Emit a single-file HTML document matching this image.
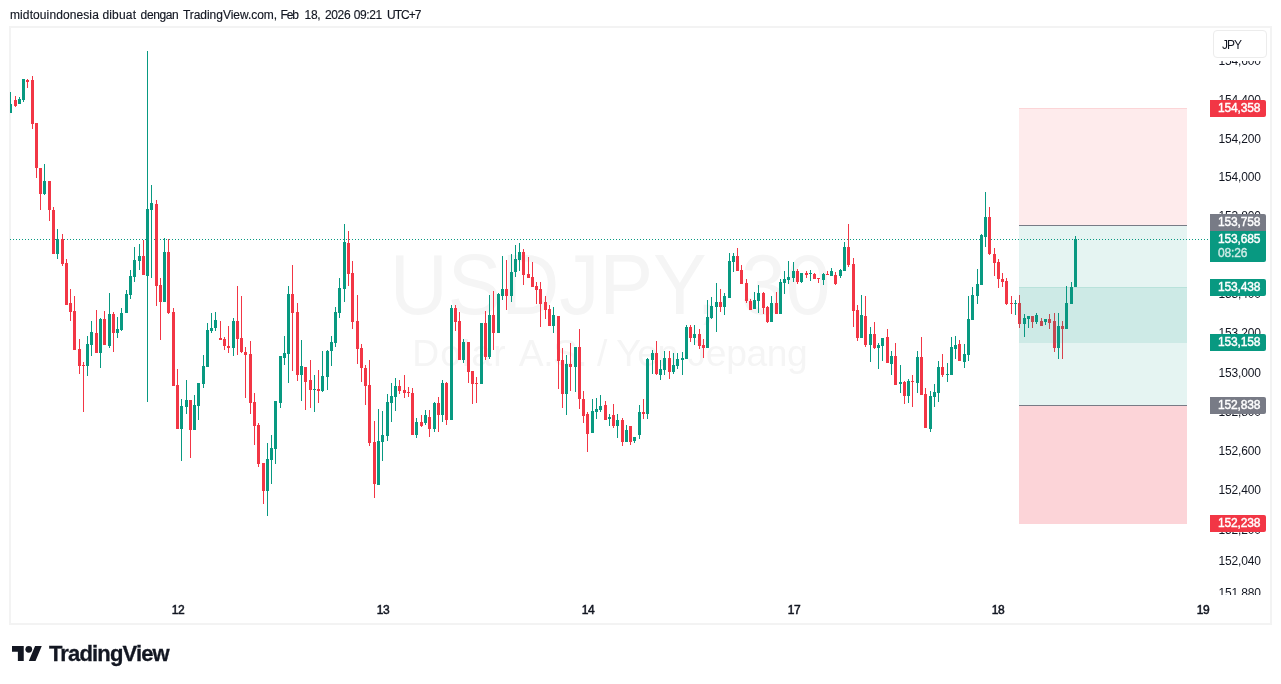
<!DOCTYPE html>
<html><head><meta charset="utf-8"><title>chart</title>
<style>
html,body{margin:0;padding:0;background:#fff;}
body{width:1281px;height:684px;position:relative;overflow:hidden;will-change:transform;font-family:"Liberation Sans",sans-serif;color:#131722;}
.hdr{position:absolute;left:10px;top:8px;-webkit-text-stroke:0.15px #131722;font-size:12px;line-height:14px;white-space:nowrap;color:#131722;letter-spacing:-0.035px;}
.frame{position:absolute;left:9px;top:26px;width:1259px;height:595px;border:2px solid #f3f3f3;box-sizing:content-box;}
.wm1{position:absolute;left:10px;width:1200px;top:236.5px;text-align:center;font-size:85px;line-height:96px;color:#f5f5f5;white-space:nowrap;transform:scaleX(0.945);transform-origin:601px 0;}
.wm2{position:absolute;left:10px;width:1200px;top:333.5px;text-align:center;font-size:36px;line-height:40px;color:#f5f5f5;white-space:nowrap;transform:scaleX(1.034);transform-origin:600px 0;}
.pl{position:absolute;left:1218.5px;width:44px;height:16px;line-height:16px;font-size:12px;color:#131722;white-space:nowrap;letter-spacing:-0.15px;}
.tl{position:absolute;top:602px;width:40px;text-align:center;height:16px;line-height:16px;font-size:12px;font-weight:normal;-webkit-text-stroke:0.5px #131722;color:#131722;letter-spacing:-0.3px;}
.tag{position:absolute;left:1210px;width:56px;height:17px;line-height:17px;font-size:12px;font-weight:normal;-webkit-text-stroke:0.42px #fff;color:#fff;box-sizing:border-box;padding-left:8px;border-radius:0 2px 2px 0;white-space:nowrap;letter-spacing:-0.15px;}
.jpy{position:absolute;left:1213px;top:30px;width:52px;height:26px;border:1px solid #ececec;border-radius:4px;background:#fff;font-size:12px;line-height:25px;box-sizing:content-box;}
.jpy span{position:absolute;left:8px;top:2px;letter-spacing:-1px;}
.jpybg{position:absolute;left:1209px;top:28px;width:61px;height:33px;background:#fff;}
.logo{position:absolute;left:12px;top:646px;}
.brand{position:absolute;left:49px;top:641px;-webkit-text-stroke:0.3px #131722;font-size:22px;line-height:26px;font-weight:bold;color:#131722;letter-spacing:-0.85px;}
</style></head><body>
<div class="hdr"><span style="position:absolute;left:0.0px;top:0;letter-spacing:0.101px">midtouindonesia</span><span style="position:absolute;left:92.4px;top:0;letter-spacing:0.185px">dibuat</span><span style="position:absolute;left:130.6px;top:0;letter-spacing:-0.375px">dengan</span><span style="position:absolute;left:172.9px;top:0;letter-spacing:-0.035px">TradingView.com,</span><span style="position:absolute;left:270.6px;top:0;letter-spacing:-1.185px">Feb</span><span style="position:absolute;left:294.6px;top:0;letter-spacing:-0.335px">18,</span><span style="position:absolute;left:314.9px;top:0;letter-spacing:-0.335px">2026</span><span style="position:absolute;left:343.7px;top:0;letter-spacing:-0.365px">09:21</span><span style="position:absolute;left:377.1px;top:0;letter-spacing:-0.985px">UTC+7</span></div>
<div class="frame"></div>
<div class="wm1">USDJPY, 30</div>
<div class="wm2"><span style="letter-spacing:1.05px">Dolar</span><span style="letter-spacing:1.8px"> </span><span style="letter-spacing:-0.5px">A.S. </span><span style="letter-spacing:-0.4px">/ Yen Jepan</span>g</div>
<svg width="1281" height="684" style="position:absolute;left:0;top:0" shape-rendering="crispEdges">
<line x1="10" y1="239.5" x2="1208" y2="239.5" stroke="#089981" stroke-width="1" stroke-dasharray="1 2"/>
<rect x="10" y="92" width="1" height="21" fill="#089981"/>
<rect x="10" y="104" width="2" height="9" fill="#089981"/>
<rect x="15" y="96" width="1" height="11" fill="#f23645"/>
<rect x="14" y="100" width="3" height="6" fill="#f23645"/>
<rect x="19" y="97" width="1" height="7" fill="#089981"/>
<rect x="18" y="99" width="3" height="5" fill="#089981"/>
<rect x="23" y="79" width="1" height="23" fill="#089981"/>
<rect x="22" y="79" width="3" height="21" fill="#089981"/>
<rect x="27" y="79" width="1" height="9" fill="#f23645"/>
<rect x="26" y="80" width="3" height="2" fill="#f23645"/>
<rect x="32" y="76" width="1" height="53" fill="#f23645"/>
<rect x="31" y="80" width="3" height="44" fill="#f23645"/>
<rect x="36" y="123" width="1" height="55" fill="#f23645"/>
<rect x="35" y="123" width="3" height="45" fill="#f23645"/>
<rect x="40" y="168" width="1" height="42" fill="#f23645"/>
<rect x="39" y="168" width="3" height="26" fill="#f23645"/>
<rect x="44" y="164" width="1" height="31" fill="#089981"/>
<rect x="43" y="181" width="3" height="13" fill="#089981"/>
<rect x="49" y="181" width="1" height="40" fill="#f23645"/>
<rect x="48" y="181" width="3" height="29" fill="#f23645"/>
<rect x="53" y="207" width="1" height="47" fill="#f23645"/>
<rect x="52" y="210" width="3" height="44" fill="#f23645"/>
<rect x="57" y="229" width="1" height="30" fill="#089981"/>
<rect x="56" y="239" width="3" height="15" fill="#089981"/>
<rect x="62" y="234" width="1" height="32" fill="#f23645"/>
<rect x="61" y="239" width="3" height="25" fill="#f23645"/>
<rect x="66" y="259" width="1" height="46" fill="#f23645"/>
<rect x="65" y="263" width="3" height="42" fill="#f23645"/>
<rect x="70" y="289" width="1" height="32" fill="#f23645"/>
<rect x="69" y="303" width="3" height="9" fill="#f23645"/>
<rect x="74" y="296" width="1" height="54" fill="#f23645"/>
<rect x="73" y="311" width="3" height="39" fill="#f23645"/>
<rect x="79" y="339" width="1" height="35" fill="#f23645"/>
<rect x="78" y="349" width="3" height="17" fill="#f23645"/>
<rect x="83" y="362" width="1" height="50" fill="#f23645"/>
<rect x="82" y="365" width="3" height="1" fill="#f23645"/>
<rect x="87" y="336" width="1" height="40" fill="#089981"/>
<rect x="86" y="344" width="3" height="22" fill="#089981"/>
<rect x="91" y="321" width="1" height="35" fill="#089981"/>
<rect x="90" y="332" width="3" height="13" fill="#089981"/>
<rect x="96" y="310" width="1" height="43" fill="#f23645"/>
<rect x="95" y="333" width="3" height="20" fill="#f23645"/>
<rect x="100" y="318" width="1" height="50" fill="#089981"/>
<rect x="99" y="319" width="3" height="34" fill="#089981"/>
<rect x="104" y="311" width="1" height="34" fill="#f23645"/>
<rect x="103" y="319" width="3" height="26" fill="#f23645"/>
<rect x="109" y="293" width="1" height="55" fill="#089981"/>
<rect x="108" y="314" width="3" height="32" fill="#089981"/>
<rect x="113" y="312" width="1" height="40" fill="#f23645"/>
<rect x="112" y="314" width="3" height="19" fill="#f23645"/>
<rect x="117" y="317" width="1" height="21" fill="#089981"/>
<rect x="116" y="329" width="3" height="4" fill="#089981"/>
<rect x="121" y="308" width="1" height="23" fill="#089981"/>
<rect x="120" y="313" width="3" height="17" fill="#089981"/>
<rect x="126" y="290" width="1" height="23" fill="#089981"/>
<rect x="125" y="294" width="3" height="19" fill="#089981"/>
<rect x="130" y="270" width="1" height="29" fill="#089981"/>
<rect x="129" y="276" width="3" height="19" fill="#089981"/>
<rect x="134" y="247" width="1" height="35" fill="#089981"/>
<rect x="133" y="260" width="3" height="17" fill="#089981"/>
<rect x="139" y="244" width="1" height="26" fill="#089981"/>
<rect x="138" y="256" width="3" height="5" fill="#089981"/>
<rect x="143" y="240" width="1" height="35" fill="#f23645"/>
<rect x="142" y="256" width="3" height="19" fill="#f23645"/>
<rect x="147" y="51" width="1" height="351" fill="#089981"/>
<rect x="146" y="209" width="3" height="67" fill="#089981"/>
<rect x="151" y="185" width="1" height="93" fill="#089981"/>
<rect x="150" y="203" width="3" height="7" fill="#089981"/>
<rect x="156" y="200" width="1" height="106" fill="#f23645"/>
<rect x="155" y="204" width="3" height="82" fill="#f23645"/>
<rect x="160" y="278" width="1" height="62" fill="#f23645"/>
<rect x="159" y="285" width="3" height="17" fill="#f23645"/>
<rect x="164" y="238" width="1" height="64" fill="#089981"/>
<rect x="163" y="252" width="3" height="50" fill="#089981"/>
<rect x="168" y="239" width="1" height="75" fill="#f23645"/>
<rect x="167" y="252" width="3" height="61" fill="#f23645"/>
<rect x="173" y="308" width="1" height="78" fill="#f23645"/>
<rect x="172" y="312" width="3" height="74" fill="#f23645"/>
<rect x="177" y="369" width="1" height="60" fill="#f23645"/>
<rect x="176" y="385" width="3" height="44" fill="#f23645"/>
<rect x="181" y="399" width="1" height="62" fill="#089981"/>
<rect x="180" y="406" width="3" height="23" fill="#089981"/>
<rect x="186" y="380" width="1" height="34" fill="#089981"/>
<rect x="185" y="400" width="3" height="7" fill="#089981"/>
<rect x="190" y="400" width="1" height="58" fill="#f23645"/>
<rect x="189" y="400" width="3" height="30" fill="#f23645"/>
<rect x="194" y="395" width="1" height="35" fill="#089981"/>
<rect x="193" y="405" width="3" height="25" fill="#089981"/>
<rect x="198" y="383" width="1" height="37" fill="#089981"/>
<rect x="197" y="383" width="3" height="23" fill="#089981"/>
<rect x="203" y="355" width="1" height="33" fill="#089981"/>
<rect x="202" y="366" width="3" height="18" fill="#089981"/>
<rect x="207" y="323" width="1" height="44" fill="#089981"/>
<rect x="206" y="330" width="3" height="37" fill="#089981"/>
<rect x="211" y="313" width="1" height="20" fill="#089981"/>
<rect x="210" y="328" width="3" height="3" fill="#089981"/>
<rect x="215" y="312" width="1" height="19" fill="#089981"/>
<rect x="214" y="320" width="3" height="8" fill="#089981"/>
<rect x="220" y="321" width="1" height="19" fill="#f23645"/>
<rect x="219" y="338" width="3" height="2" fill="#f23645"/>
<rect x="224" y="337" width="1" height="13" fill="#f23645"/>
<rect x="223" y="339" width="3" height="7" fill="#f23645"/>
<rect x="228" y="326" width="1" height="27" fill="#f23645"/>
<rect x="227" y="346" width="3" height="2" fill="#f23645"/>
<rect x="233" y="318" width="1" height="38" fill="#089981"/>
<rect x="232" y="321" width="3" height="27" fill="#089981"/>
<rect x="237" y="286" width="1" height="69" fill="#f23645"/>
<rect x="236" y="321" width="3" height="18" fill="#f23645"/>
<rect x="241" y="296" width="1" height="57" fill="#f23645"/>
<rect x="240" y="338" width="3" height="14" fill="#f23645"/>
<rect x="245" y="347" width="1" height="51" fill="#f23645"/>
<rect x="244" y="352" width="3" height="3" fill="#f23645"/>
<rect x="250" y="341" width="1" height="73" fill="#f23645"/>
<rect x="249" y="354" width="3" height="49" fill="#f23645"/>
<rect x="254" y="393" width="1" height="52" fill="#f23645"/>
<rect x="253" y="402" width="3" height="24" fill="#f23645"/>
<rect x="258" y="423" width="1" height="44" fill="#f23645"/>
<rect x="257" y="425" width="3" height="39" fill="#f23645"/>
<rect x="263" y="463" width="1" height="41" fill="#f23645"/>
<rect x="262" y="463" width="3" height="28" fill="#f23645"/>
<rect x="267" y="443" width="1" height="73" fill="#089981"/>
<rect x="266" y="459" width="3" height="32" fill="#089981"/>
<rect x="271" y="435" width="1" height="49" fill="#089981"/>
<rect x="270" y="448" width="3" height="12" fill="#089981"/>
<rect x="275" y="401" width="1" height="63" fill="#089981"/>
<rect x="274" y="401" width="3" height="48" fill="#089981"/>
<rect x="280" y="356" width="1" height="52" fill="#089981"/>
<rect x="279" y="356" width="3" height="47" fill="#089981"/>
<rect x="284" y="336" width="1" height="29" fill="#089981"/>
<rect x="283" y="353" width="3" height="5" fill="#089981"/>
<rect x="288" y="286" width="1" height="97" fill="#089981"/>
<rect x="287" y="294" width="3" height="60" fill="#089981"/>
<rect x="292" y="265" width="1" height="106" fill="#f23645"/>
<rect x="291" y="294" width="3" height="19" fill="#f23645"/>
<rect x="297" y="303" width="1" height="78" fill="#f23645"/>
<rect x="296" y="312" width="3" height="63" fill="#f23645"/>
<rect x="301" y="340" width="1" height="61" fill="#089981"/>
<rect x="300" y="366" width="3" height="9" fill="#089981"/>
<rect x="305" y="367" width="1" height="43" fill="#f23645"/>
<rect x="304" y="367" width="3" height="15" fill="#f23645"/>
<rect x="310" y="360" width="1" height="48" fill="#f23645"/>
<rect x="309" y="380" width="3" height="10" fill="#f23645"/>
<rect x="314" y="375" width="1" height="37" fill="#089981"/>
<rect x="313" y="389" width="3" height="1" fill="#089981"/>
<rect x="318" y="370" width="1" height="33" fill="#f23645"/>
<rect x="317" y="389" width="3" height="2" fill="#f23645"/>
<rect x="322" y="351" width="1" height="41" fill="#089981"/>
<rect x="321" y="376" width="3" height="15" fill="#089981"/>
<rect x="327" y="350" width="1" height="40" fill="#089981"/>
<rect x="326" y="351" width="3" height="26" fill="#089981"/>
<rect x="331" y="336" width="1" height="30" fill="#089981"/>
<rect x="330" y="342" width="3" height="9" fill="#089981"/>
<rect x="335" y="307" width="1" height="40" fill="#089981"/>
<rect x="334" y="312" width="3" height="31" fill="#089981"/>
<rect x="339" y="278" width="1" height="40" fill="#089981"/>
<rect x="338" y="288" width="3" height="25" fill="#089981"/>
<rect x="344" y="224" width="1" height="78" fill="#089981"/>
<rect x="343" y="242" width="3" height="47" fill="#089981"/>
<rect x="348" y="231" width="1" height="55" fill="#f23645"/>
<rect x="347" y="243" width="3" height="31" fill="#f23645"/>
<rect x="352" y="261" width="1" height="68" fill="#f23645"/>
<rect x="351" y="273" width="3" height="49" fill="#f23645"/>
<rect x="357" y="295" width="1" height="69" fill="#f23645"/>
<rect x="356" y="321" width="3" height="28" fill="#f23645"/>
<rect x="361" y="344" width="1" height="38" fill="#f23645"/>
<rect x="360" y="348" width="3" height="20" fill="#f23645"/>
<rect x="365" y="365" width="1" height="40" fill="#f23645"/>
<rect x="364" y="368" width="3" height="18" fill="#f23645"/>
<rect x="369" y="360" width="1" height="86" fill="#f23645"/>
<rect x="368" y="385" width="3" height="58" fill="#f23645"/>
<rect x="374" y="421" width="1" height="77" fill="#f23645"/>
<rect x="373" y="442" width="3" height="42" fill="#f23645"/>
<rect x="378" y="409" width="1" height="76" fill="#089981"/>
<rect x="377" y="441" width="3" height="44" fill="#089981"/>
<rect x="382" y="411" width="1" height="50" fill="#089981"/>
<rect x="381" y="435" width="3" height="7" fill="#089981"/>
<rect x="387" y="394" width="1" height="47" fill="#089981"/>
<rect x="386" y="402" width="3" height="34" fill="#089981"/>
<rect x="391" y="383" width="1" height="39" fill="#089981"/>
<rect x="390" y="396" width="3" height="7" fill="#089981"/>
<rect x="395" y="378" width="1" height="33" fill="#089981"/>
<rect x="394" y="386" width="3" height="11" fill="#089981"/>
<rect x="399" y="380" width="1" height="14" fill="#f23645"/>
<rect x="398" y="386" width="3" height="5" fill="#f23645"/>
<rect x="404" y="375" width="1" height="23" fill="#f23645"/>
<rect x="403" y="390" width="3" height="3" fill="#f23645"/>
<rect x="408" y="387" width="1" height="10" fill="#f23645"/>
<rect x="407" y="392" width="3" height="1" fill="#f23645"/>
<rect x="412" y="388" width="1" height="47" fill="#f23645"/>
<rect x="411" y="393" width="3" height="42" fill="#f23645"/>
<rect x="416" y="418" width="1" height="20" fill="#089981"/>
<rect x="415" y="422" width="3" height="13" fill="#089981"/>
<rect x="421" y="415" width="1" height="12" fill="#f23645"/>
<rect x="420" y="422" width="3" height="4" fill="#f23645"/>
<rect x="425" y="410" width="1" height="15" fill="#089981"/>
<rect x="424" y="415" width="3" height="8" fill="#089981"/>
<rect x="429" y="410" width="1" height="27" fill="#f23645"/>
<rect x="428" y="417" width="3" height="12" fill="#f23645"/>
<rect x="434" y="402" width="1" height="30" fill="#089981"/>
<rect x="433" y="403" width="3" height="26" fill="#089981"/>
<rect x="438" y="397" width="1" height="35" fill="#f23645"/>
<rect x="437" y="403" width="3" height="12" fill="#f23645"/>
<rect x="442" y="380" width="1" height="42" fill="#089981"/>
<rect x="441" y="383" width="3" height="32" fill="#089981"/>
<rect x="446" y="382" width="1" height="43" fill="#f23645"/>
<rect x="445" y="383" width="3" height="37" fill="#f23645"/>
<rect x="451" y="305" width="1" height="115" fill="#089981"/>
<rect x="450" y="308" width="3" height="112" fill="#089981"/>
<rect x="455" y="305" width="1" height="26" fill="#f23645"/>
<rect x="454" y="308" width="3" height="14" fill="#f23645"/>
<rect x="459" y="312" width="1" height="48" fill="#f23645"/>
<rect x="458" y="321" width="3" height="39" fill="#f23645"/>
<rect x="463" y="339" width="1" height="24" fill="#089981"/>
<rect x="462" y="342" width="3" height="18" fill="#089981"/>
<rect x="468" y="342" width="1" height="41" fill="#f23645"/>
<rect x="467" y="342" width="3" height="30" fill="#f23645"/>
<rect x="472" y="371" width="1" height="33" fill="#f23645"/>
<rect x="471" y="371" width="3" height="13" fill="#f23645"/>
<rect x="476" y="377" width="1" height="26" fill="#f23645"/>
<rect x="475" y="383" width="3" height="1" fill="#f23645"/>
<rect x="481" y="323" width="1" height="61" fill="#089981"/>
<rect x="480" y="323" width="3" height="61" fill="#089981"/>
<rect x="485" y="311" width="1" height="49" fill="#f23645"/>
<rect x="484" y="323" width="3" height="34" fill="#f23645"/>
<rect x="489" y="295" width="1" height="64" fill="#089981"/>
<rect x="488" y="315" width="3" height="42" fill="#089981"/>
<rect x="493" y="291" width="1" height="59" fill="#f23645"/>
<rect x="492" y="315" width="3" height="18" fill="#f23645"/>
<rect x="498" y="293" width="1" height="40" fill="#089981"/>
<rect x="497" y="294" width="3" height="39" fill="#089981"/>
<rect x="502" y="256" width="1" height="44" fill="#089981"/>
<rect x="501" y="289" width="3" height="7" fill="#089981"/>
<rect x="506" y="260" width="1" height="50" fill="#f23645"/>
<rect x="505" y="289" width="3" height="7" fill="#f23645"/>
<rect x="511" y="254" width="1" height="48" fill="#089981"/>
<rect x="510" y="272" width="3" height="24" fill="#089981"/>
<rect x="515" y="245" width="1" height="32" fill="#089981"/>
<rect x="514" y="259" width="3" height="13" fill="#089981"/>
<rect x="519" y="243" width="1" height="28" fill="#089981"/>
<rect x="518" y="252" width="3" height="8" fill="#089981"/>
<rect x="523" y="249" width="1" height="36" fill="#f23645"/>
<rect x="522" y="252" width="3" height="23" fill="#f23645"/>
<rect x="528" y="257" width="1" height="21" fill="#f23645"/>
<rect x="527" y="274" width="3" height="4" fill="#f23645"/>
<rect x="532" y="262" width="1" height="25" fill="#f23645"/>
<rect x="531" y="277" width="3" height="10" fill="#f23645"/>
<rect x="536" y="282" width="1" height="22" fill="#f23645"/>
<rect x="535" y="286" width="3" height="4" fill="#f23645"/>
<rect x="540" y="282" width="1" height="45" fill="#f23645"/>
<rect x="539" y="289" width="3" height="15" fill="#f23645"/>
<rect x="545" y="296" width="1" height="23" fill="#f23645"/>
<rect x="544" y="302" width="3" height="8" fill="#f23645"/>
<rect x="549" y="305" width="1" height="21" fill="#f23645"/>
<rect x="548" y="309" width="3" height="17" fill="#f23645"/>
<rect x="553" y="307" width="1" height="26" fill="#089981"/>
<rect x="552" y="315" width="3" height="11" fill="#089981"/>
<rect x="558" y="316" width="1" height="73" fill="#f23645"/>
<rect x="557" y="316" width="3" height="45" fill="#f23645"/>
<rect x="562" y="348" width="1" height="60" fill="#f23645"/>
<rect x="561" y="360" width="3" height="34" fill="#f23645"/>
<rect x="566" y="355" width="1" height="60" fill="#089981"/>
<rect x="565" y="364" width="3" height="30" fill="#089981"/>
<rect x="570" y="343" width="1" height="48" fill="#f23645"/>
<rect x="569" y="364" width="3" height="3" fill="#f23645"/>
<rect x="575" y="347" width="1" height="45" fill="#089981"/>
<rect x="574" y="347" width="3" height="20" fill="#089981"/>
<rect x="579" y="329" width="1" height="80" fill="#f23645"/>
<rect x="578" y="347" width="3" height="52" fill="#f23645"/>
<rect x="583" y="391" width="1" height="32" fill="#f23645"/>
<rect x="582" y="399" width="3" height="17" fill="#f23645"/>
<rect x="587" y="412" width="1" height="40" fill="#f23645"/>
<rect x="586" y="414" width="3" height="20" fill="#f23645"/>
<rect x="592" y="399" width="1" height="34" fill="#089981"/>
<rect x="591" y="411" width="3" height="22" fill="#089981"/>
<rect x="596" y="398" width="1" height="21" fill="#089981"/>
<rect x="595" y="409" width="3" height="3" fill="#089981"/>
<rect x="600" y="395" width="1" height="17" fill="#089981"/>
<rect x="599" y="406" width="3" height="4" fill="#089981"/>
<rect x="605" y="401" width="1" height="19" fill="#f23645"/>
<rect x="604" y="405" width="3" height="15" fill="#f23645"/>
<rect x="609" y="414" width="1" height="12" fill="#089981"/>
<rect x="608" y="417" width="3" height="2" fill="#089981"/>
<rect x="613" y="404" width="1" height="24" fill="#f23645"/>
<rect x="612" y="415" width="3" height="11" fill="#f23645"/>
<rect x="617" y="414" width="1" height="24" fill="#089981"/>
<rect x="616" y="420" width="3" height="6" fill="#089981"/>
<rect x="622" y="418" width="1" height="28" fill="#f23645"/>
<rect x="621" y="420" width="3" height="22" fill="#f23645"/>
<rect x="626" y="425" width="1" height="17" fill="#089981"/>
<rect x="625" y="430" width="3" height="12" fill="#089981"/>
<rect x="630" y="426" width="1" height="19" fill="#f23645"/>
<rect x="629" y="426" width="3" height="16" fill="#f23645"/>
<rect x="634" y="437" width="1" height="6" fill="#089981"/>
<rect x="633" y="437" width="3" height="4" fill="#089981"/>
<rect x="639" y="405" width="1" height="34" fill="#089981"/>
<rect x="638" y="412" width="3" height="23" fill="#089981"/>
<rect x="643" y="399" width="1" height="20" fill="#f23645"/>
<rect x="642" y="412" width="3" height="2" fill="#f23645"/>
<rect x="647" y="358" width="1" height="61" fill="#089981"/>
<rect x="646" y="359" width="3" height="55" fill="#089981"/>
<rect x="652" y="350" width="1" height="24" fill="#089981"/>
<rect x="651" y="353" width="3" height="7" fill="#089981"/>
<rect x="656" y="341" width="1" height="34" fill="#f23645"/>
<rect x="655" y="353" width="3" height="21" fill="#f23645"/>
<rect x="660" y="360" width="1" height="20" fill="#089981"/>
<rect x="659" y="369" width="3" height="6" fill="#089981"/>
<rect x="664" y="351" width="1" height="24" fill="#089981"/>
<rect x="663" y="358" width="3" height="12" fill="#089981"/>
<rect x="669" y="351" width="1" height="28" fill="#f23645"/>
<rect x="668" y="358" width="3" height="14" fill="#f23645"/>
<rect x="673" y="353" width="1" height="21" fill="#089981"/>
<rect x="672" y="365" width="3" height="7" fill="#089981"/>
<rect x="677" y="353" width="1" height="16" fill="#089981"/>
<rect x="676" y="359" width="3" height="7" fill="#089981"/>
<rect x="682" y="352" width="1" height="23" fill="#089981"/>
<rect x="681" y="358" width="3" height="2" fill="#089981"/>
<rect x="686" y="325" width="1" height="34" fill="#089981"/>
<rect x="685" y="327" width="3" height="32" fill="#089981"/>
<rect x="690" y="325" width="1" height="17" fill="#f23645"/>
<rect x="689" y="327" width="3" height="11" fill="#f23645"/>
<rect x="694" y="325" width="1" height="20" fill="#089981"/>
<rect x="693" y="334" width="3" height="4" fill="#089981"/>
<rect x="699" y="329" width="1" height="20" fill="#f23645"/>
<rect x="698" y="334" width="3" height="12" fill="#f23645"/>
<rect x="703" y="339" width="1" height="19" fill="#f23645"/>
<rect x="702" y="345" width="3" height="3" fill="#f23645"/>
<rect x="707" y="300" width="1" height="48" fill="#089981"/>
<rect x="706" y="317" width="3" height="31" fill="#089981"/>
<rect x="711" y="297" width="1" height="22" fill="#089981"/>
<rect x="710" y="306" width="3" height="12" fill="#089981"/>
<rect x="716" y="283" width="1" height="49" fill="#089981"/>
<rect x="715" y="302" width="3" height="5" fill="#089981"/>
<rect x="720" y="289" width="1" height="23" fill="#f23645"/>
<rect x="719" y="302" width="3" height="5" fill="#f23645"/>
<rect x="724" y="293" width="1" height="22" fill="#089981"/>
<rect x="723" y="296" width="3" height="11" fill="#089981"/>
<rect x="729" y="253" width="1" height="45" fill="#089981"/>
<rect x="728" y="261" width="3" height="37" fill="#089981"/>
<rect x="733" y="253" width="1" height="19" fill="#089981"/>
<rect x="732" y="256" width="3" height="6" fill="#089981"/>
<rect x="737" y="248" width="1" height="23" fill="#f23645"/>
<rect x="736" y="256" width="3" height="15" fill="#f23645"/>
<rect x="741" y="265" width="1" height="19" fill="#f23645"/>
<rect x="740" y="270" width="3" height="14" fill="#f23645"/>
<rect x="746" y="279" width="1" height="24" fill="#f23645"/>
<rect x="745" y="283" width="3" height="18" fill="#f23645"/>
<rect x="750" y="299" width="1" height="11" fill="#f23645"/>
<rect x="749" y="301" width="3" height="9" fill="#f23645"/>
<rect x="754" y="292" width="1" height="17" fill="#089981"/>
<rect x="753" y="300" width="3" height="9" fill="#089981"/>
<rect x="758" y="285" width="1" height="28" fill="#089981"/>
<rect x="757" y="293" width="3" height="8" fill="#089981"/>
<rect x="763" y="292" width="1" height="22" fill="#f23645"/>
<rect x="762" y="293" width="3" height="15" fill="#f23645"/>
<rect x="767" y="306" width="1" height="17" fill="#f23645"/>
<rect x="766" y="307" width="3" height="15" fill="#f23645"/>
<rect x="771" y="296" width="1" height="26" fill="#089981"/>
<rect x="770" y="303" width="3" height="19" fill="#089981"/>
<rect x="776" y="292" width="1" height="22" fill="#f23645"/>
<rect x="775" y="303" width="3" height="11" fill="#f23645"/>
<rect x="780" y="279" width="1" height="35" fill="#089981"/>
<rect x="779" y="282" width="3" height="32" fill="#089981"/>
<rect x="784" y="271" width="1" height="23" fill="#089981"/>
<rect x="783" y="279" width="3" height="4" fill="#089981"/>
<rect x="788" y="261" width="1" height="23" fill="#089981"/>
<rect x="787" y="277" width="3" height="3" fill="#089981"/>
<rect x="793" y="262" width="1" height="20" fill="#089981"/>
<rect x="792" y="271" width="3" height="7" fill="#089981"/>
<rect x="797" y="269" width="1" height="15" fill="#f23645"/>
<rect x="796" y="271" width="3" height="11" fill="#f23645"/>
<rect x="801" y="273" width="1" height="10" fill="#089981"/>
<rect x="800" y="273" width="3" height="9" fill="#089981"/>
<rect x="806" y="271" width="1" height="7" fill="#f23645"/>
<rect x="805" y="273" width="3" height="2" fill="#f23645"/>
<rect x="810" y="270" width="1" height="11" fill="#089981"/>
<rect x="809" y="273" width="3" height="1" fill="#089981"/>
<rect x="814" y="273" width="1" height="6" fill="#f23645"/>
<rect x="813" y="274" width="3" height="5" fill="#f23645"/>
<rect x="818" y="278" width="1" height="5" fill="#f23645"/>
<rect x="817" y="278" width="3" height="1" fill="#f23645"/>
<rect x="823" y="273" width="1" height="12" fill="#089981"/>
<rect x="822" y="274" width="3" height="6" fill="#089981"/>
<rect x="827" y="271" width="1" height="4" fill="#f23645"/>
<rect x="826" y="274" width="3" height="1" fill="#f23645"/>
<rect x="831" y="268" width="1" height="8" fill="#089981"/>
<rect x="830" y="271" width="3" height="5" fill="#089981"/>
<rect x="835" y="272" width="1" height="13" fill="#f23645"/>
<rect x="834" y="275" width="3" height="9" fill="#f23645"/>
<rect x="840" y="269" width="1" height="9" fill="#089981"/>
<rect x="839" y="270" width="3" height="6" fill="#089981"/>
<rect x="844" y="242" width="1" height="29" fill="#089981"/>
<rect x="843" y="247" width="3" height="24" fill="#089981"/>
<rect x="848" y="224" width="1" height="43" fill="#f23645"/>
<rect x="847" y="247" width="3" height="18" fill="#f23645"/>
<rect x="853" y="258" width="1" height="69" fill="#f23645"/>
<rect x="852" y="264" width="3" height="47" fill="#f23645"/>
<rect x="857" y="305" width="1" height="36" fill="#f23645"/>
<rect x="856" y="310" width="3" height="28" fill="#f23645"/>
<rect x="861" y="295" width="1" height="43" fill="#089981"/>
<rect x="860" y="315" width="3" height="23" fill="#089981"/>
<rect x="865" y="296" width="1" height="51" fill="#f23645"/>
<rect x="864" y="316" width="3" height="29" fill="#f23645"/>
<rect x="870" y="327" width="1" height="35" fill="#089981"/>
<rect x="869" y="334" width="3" height="11" fill="#089981"/>
<rect x="874" y="322" width="1" height="27" fill="#f23645"/>
<rect x="873" y="334" width="3" height="14" fill="#f23645"/>
<rect x="878" y="343" width="1" height="26" fill="#089981"/>
<rect x="877" y="345" width="3" height="3" fill="#089981"/>
<rect x="882" y="338" width="1" height="23" fill="#089981"/>
<rect x="881" y="338" width="3" height="8" fill="#089981"/>
<rect x="887" y="329" width="1" height="34" fill="#f23645"/>
<rect x="886" y="337" width="3" height="26" fill="#f23645"/>
<rect x="891" y="351" width="1" height="24" fill="#089981"/>
<rect x="890" y="356" width="3" height="8" fill="#089981"/>
<rect x="895" y="343" width="1" height="42" fill="#f23645"/>
<rect x="894" y="356" width="3" height="29" fill="#f23645"/>
<rect x="900" y="365" width="1" height="28" fill="#089981"/>
<rect x="899" y="382" width="3" height="2" fill="#089981"/>
<rect x="904" y="381" width="1" height="23" fill="#f23645"/>
<rect x="903" y="382" width="3" height="14" fill="#f23645"/>
<rect x="908" y="379" width="1" height="24" fill="#089981"/>
<rect x="907" y="381" width="3" height="15" fill="#089981"/>
<rect x="912" y="375" width="1" height="32" fill="#f23645"/>
<rect x="911" y="381" width="3" height="1" fill="#f23645"/>
<rect x="917" y="351" width="1" height="42" fill="#089981"/>
<rect x="916" y="357" width="3" height="26" fill="#089981"/>
<rect x="921" y="337" width="1" height="58" fill="#f23645"/>
<rect x="920" y="357" width="3" height="38" fill="#f23645"/>
<rect x="925" y="388" width="1" height="40" fill="#f23645"/>
<rect x="924" y="394" width="3" height="34" fill="#f23645"/>
<rect x="930" y="391" width="1" height="41" fill="#089981"/>
<rect x="929" y="396" width="3" height="33" fill="#089981"/>
<rect x="934" y="384" width="1" height="23" fill="#089981"/>
<rect x="933" y="392" width="3" height="5" fill="#089981"/>
<rect x="938" y="361" width="1" height="41" fill="#089981"/>
<rect x="937" y="367" width="3" height="26" fill="#089981"/>
<rect x="942" y="354" width="1" height="23" fill="#f23645"/>
<rect x="941" y="367" width="3" height="8" fill="#f23645"/>
<rect x="947" y="363" width="1" height="19" fill="#089981"/>
<rect x="946" y="374" width="3" height="1" fill="#089981"/>
<rect x="951" y="337" width="1" height="38" fill="#089981"/>
<rect x="950" y="347" width="3" height="28" fill="#089981"/>
<rect x="955" y="336" width="1" height="23" fill="#089981"/>
<rect x="954" y="345" width="3" height="4" fill="#089981"/>
<rect x="959" y="340" width="1" height="21" fill="#f23645"/>
<rect x="958" y="344" width="3" height="17" fill="#f23645"/>
<rect x="964" y="344" width="1" height="24" fill="#089981"/>
<rect x="963" y="354" width="3" height="8" fill="#089981"/>
<rect x="968" y="296" width="1" height="65" fill="#089981"/>
<rect x="967" y="319" width="3" height="36" fill="#089981"/>
<rect x="972" y="287" width="1" height="33" fill="#089981"/>
<rect x="971" y="295" width="3" height="25" fill="#089981"/>
<rect x="977" y="269" width="1" height="35" fill="#089981"/>
<rect x="976" y="284" width="3" height="12" fill="#089981"/>
<rect x="981" y="234" width="1" height="51" fill="#089981"/>
<rect x="980" y="235" width="3" height="50" fill="#089981"/>
<rect x="985" y="192" width="1" height="55" fill="#089981"/>
<rect x="984" y="217" width="3" height="20" fill="#089981"/>
<rect x="989" y="207" width="1" height="48" fill="#f23645"/>
<rect x="988" y="217" width="3" height="37" fill="#f23645"/>
<rect x="994" y="248" width="1" height="28" fill="#f23645"/>
<rect x="993" y="254" width="3" height="9" fill="#f23645"/>
<rect x="998" y="259" width="1" height="29" fill="#f23645"/>
<rect x="997" y="262" width="3" height="17" fill="#f23645"/>
<rect x="1002" y="273" width="1" height="14" fill="#f23645"/>
<rect x="1001" y="279" width="3" height="3" fill="#f23645"/>
<rect x="1006" y="278" width="1" height="27" fill="#f23645"/>
<rect x="1005" y="281" width="3" height="23" fill="#f23645"/>
<rect x="1011" y="296" width="1" height="18" fill="#f23645"/>
<rect x="1010" y="303" width="3" height="1" fill="#f23645"/>
<rect x="1015" y="300" width="1" height="15" fill="#089981"/>
<rect x="1014" y="303" width="3" height="1" fill="#089981"/>
<rect x="1019" y="295" width="1" height="33" fill="#f23645"/>
<rect x="1018" y="303" width="3" height="21" fill="#f23645"/>
<rect x="1024" y="314" width="1" height="23" fill="#089981"/>
<rect x="1023" y="318" width="3" height="6" fill="#089981"/>
<rect x="1028" y="316" width="1" height="12" fill="#089981"/>
<rect x="1027" y="316" width="3" height="3" fill="#089981"/>
<rect x="1032" y="316" width="1" height="12" fill="#f23645"/>
<rect x="1031" y="316" width="3" height="6" fill="#f23645"/>
<rect x="1036" y="313" width="1" height="11" fill="#089981"/>
<rect x="1035" y="315" width="3" height="7" fill="#089981"/>
<rect x="1041" y="318" width="1" height="8" fill="#f23645"/>
<rect x="1040" y="321" width="3" height="5" fill="#f23645"/>
<rect x="1045" y="319" width="1" height="6" fill="#089981"/>
<rect x="1044" y="319" width="3" height="3" fill="#089981"/>
<rect x="1049" y="314" width="1" height="15" fill="#f23645"/>
<rect x="1048" y="319" width="3" height="4" fill="#f23645"/>
<rect x="1054" y="313" width="1" height="39" fill="#f23645"/>
<rect x="1053" y="321" width="3" height="27" fill="#f23645"/>
<rect x="1058" y="313" width="1" height="46" fill="#089981"/>
<rect x="1057" y="326" width="3" height="22" fill="#089981"/>
<rect x="1062" y="321" width="1" height="38" fill="#f23645"/>
<rect x="1061" y="326" width="3" height="3" fill="#f23645"/>
<rect x="1066" y="286" width="1" height="43" fill="#089981"/>
<rect x="1065" y="303" width="3" height="26" fill="#089981"/>
<rect x="1071" y="282" width="1" height="22" fill="#089981"/>
<rect x="1070" y="287" width="3" height="17" fill="#089981"/>
<rect x="1075" y="236" width="1" height="51" fill="#089981"/>
<rect x="1074" y="239" width="3" height="48" fill="#089981"/>
<rect x="1019" y="108" width="168" height="117" fill="rgba(242,54,69,0.10)"/>
<rect x="1019" y="108" width="168" height="1" fill="rgba(242,54,69,0.12)"/>
<rect x="1019" y="405" width="168" height="119" fill="rgba(242,54,69,0.21)"/>
<rect x="1019" y="225" width="168" height="118" fill="rgba(8,153,129,0.105)"/>
<rect x="1019" y="287" width="168" height="118" fill="rgba(8,153,129,0.105)"/>
<rect x="1019" y="287" width="168" height="1" fill="rgba(8,153,129,0.10)"/>
<rect x="1019" y="225" width="168" height="1" fill="#787b86"/>
<rect x="1019" y="405" width="168" height="1" fill="#787b86"/>
</svg>
<div style="position:absolute;left:0;top:28px;width:1270px;height:567px;overflow:hidden"><div class="pl" style="top:25.3px">154,600</div><div class="pl" style="top:64.3px">154,400</div><div class="pl" style="top:102.6px">154,200</div><div class="pl" style="top:140.7px">154,000</div><div class="pl" style="top:180.3px">153,800</div><div class="pl" style="top:219.5px">153,600</div><div class="pl" style="top:257.6px">153,400</div><div class="pl" style="top:297.2px">153,200</div><div class="pl" style="top:336.6px">153,000</div><div class="pl" style="top:375.5px">152,800</div><div class="pl" style="top:414.6px">152,600</div><div class="pl" style="top:453.5px">152,400</div><div class="pl" style="top:493.5px">152,200</div><div class="pl" style="top:524.5px">152,040</div><div class="pl" style="top:557.4px">151,880</div></div>
<div class="tl" style="left:158px">12</div><div class="tl" style="left:363px">13</div><div class="tl" style="left:568px">14</div><div class="tl" style="left:774px">17</div><div class="tl" style="left:978px">18</div><div class="tl" style="left:1183px">19</div>
<div class="jpybg"></div><div class="jpy"><span>JPY</span></div>
<div class="tag" style="top:100px;background:#f23645">154,358</div>
<div class="tag" style="top:214px;background:#787b86;border-radius:0 2px 0 0">153,758</div>
<div class="tag" style="top:231px;height:31px;background:#089981;border-radius:0 0 2px 0">153,685<span style="position:absolute;left:8px;top:14px;font-weight:normal;-webkit-text-stroke:0.4px rgba(255,255,255,0.72);color:rgba(255,255,255,0.72)">08:26</span></div>
<div class="tag" style="top:279px;background:#089981">153,438</div>
<div class="tag" style="top:334px;background:#089981">153,158</div>
<div class="tag" style="top:397px;background:#787b86">152,838</div>
<div class="tag" style="top:515px;background:#f23645">152,238</div>
<svg class="logo" width="30.2" height="15.1" viewBox="0 4 36 18"><path fill="#131722" d="M14 22H7V11H0V4h14v18zM28 22h-8l7.5-18h8L28 22z"/><circle cx="20" cy="8" r="4" fill="#131722"/></svg>
<div class="brand">TradingView</div>
</body></html>
